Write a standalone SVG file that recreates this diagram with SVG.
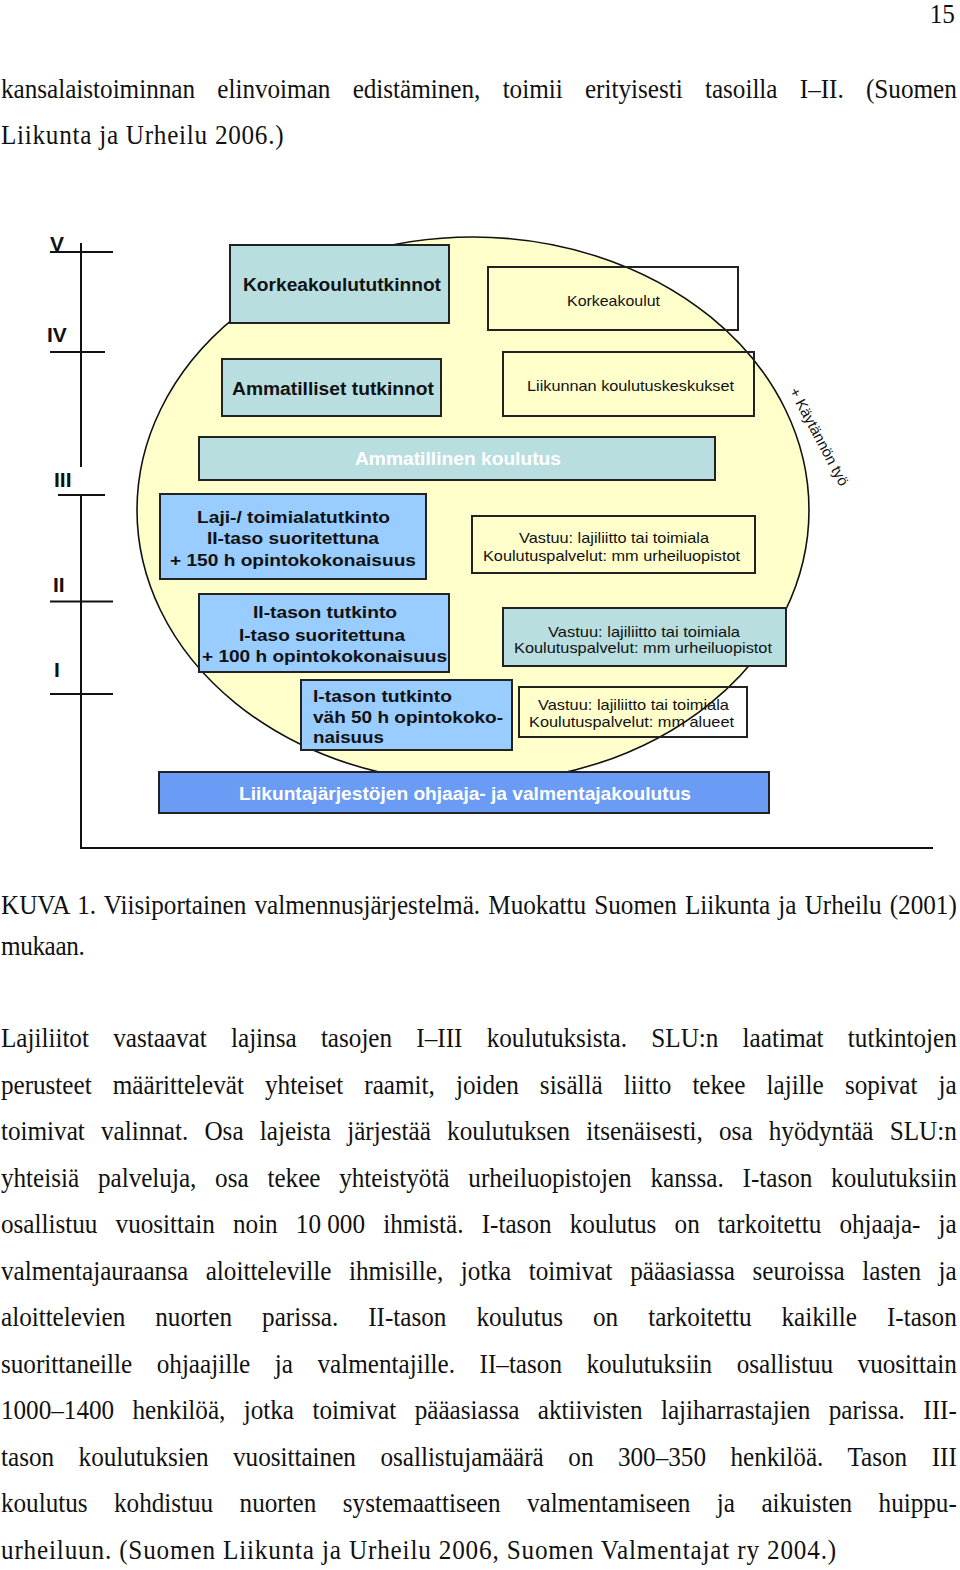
<svg xmlns="http://www.w3.org/2000/svg" width="960" height="1570" viewBox="0 0 960 1570">
<style>
.body{font-family:"Liberation Serif","Times New Roman",serif;font-size:28px;fill:#111}
.b{font-family:"Liberation Sans",Arial,sans-serif;font-weight:bold;fill:#111}
.r{font-family:"Liberation Sans",Arial,sans-serif;fill:#111}
.ax{stroke:#111;stroke-width:2;fill:none}
.teal{fill:#B8DEE0;stroke:#222;stroke-width:2}
.blue{fill:#99CCFF;stroke:#222;stroke-width:2}
.open{fill:none;stroke:#222;stroke-width:2}
</style>
<rect width="960" height="1570" fill="#fff"/>
<g id="bodytext" transform="scale(0.9,1)">
<text class="body" x="1061" y="23" text-anchor="end" font-size="26">15</text>
<text class="body" x="1.1" y="98" word-spacing="17.8" textLength="1062" lengthAdjust="spacing">kansalaistoiminnan elinvoiman edistäminen, toimii erityisesti tasoilla I–II. (Suomen</text>
<text class="body" x="1.1" y="144" textLength="314" lengthAdjust="spacing">Liikunta ja Urheilu 2006.)</text>
<text class="body" x="1.1" y="914" word-spacing="2.1" textLength="1062" lengthAdjust="spacing">KUVA 1. Viisiportainen valmennusjärjestelmä. Muokattu Suomen Liikunta ja Urheilu (2001)</text>
<text class="body" x="1.1" y="955" textLength="93" lengthAdjust="spacing">mukaan.</text>
<text class="body" x="1.1" y="1047" word-spacing="20" textLength="1062" lengthAdjust="spacing">Lajiliitot vastaavat lajinsa tasojen I–III koulutuksista. SLU:n laatimat tutkintojen</text>
<text class="body" x="1.1" y="1094" word-spacing="16.6" textLength="1062" lengthAdjust="spacing">perusteet määrittelevät yhteiset raamit, joiden sisällä liitto tekee lajille sopivat ja</text>
<text class="body" x="1.1" y="1140" word-spacing="11" textLength="1062" lengthAdjust="spacing">toimivat valinnat. Osa lajeista järjestää koulutuksen itsenäisesti, osa hyödyntää SLU:n</text>
<text class="body" x="1.1" y="1187" word-spacing="13.9" textLength="1062" lengthAdjust="spacing">yhteisiä palveluja, osa tekee yhteistyötä urheiluopistojen kanssa. I-tason koulutuksiin</text>
<text class="body" x="1.1" y="1233" word-spacing="13.2" textLength="1062" lengthAdjust="spacing">osallistuu vuosittain noin <tspan word-spacing="0">10 000</tspan> ihmistä. I-tason koulutus on tarkoitettu ohjaaja- ja</text>
<text class="body" x="1.1" y="1280" word-spacing="12.6" textLength="1062" lengthAdjust="spacing">valmentajauraansa aloitteleville ihmisille, jotka toimivat pääasiassa seuroissa lasten ja</text>
<text class="body" x="1.1" y="1326" word-spacing="26.4" textLength="1062" lengthAdjust="spacing">aloittelevien nuorten parissa. II-tason koulutus on tarkoitettu kaikille I-tason</text>
<text class="body" x="1.1" y="1373" word-spacing="20.3" textLength="1062" lengthAdjust="spacing">suorittaneille ohjaajille ja valmentajille. II–tason koulutuksiin osallistuu vuosittain</text>
<text class="body" x="1.1" y="1419" word-spacing="13.5" textLength="1062" lengthAdjust="spacing">1000–1400 henkilöä, jotka toimivat pääasiassa aktiivisten lajiharrastajien parissa. III-</text>
<text class="body" x="1.1" y="1466" word-spacing="20.3" textLength="1062" lengthAdjust="spacing">tason koulutuksien vuosittainen osallistujamäärä on 300–350 henkilöä. Tason III</text>
<text class="body" x="1.1" y="1512" word-spacing="22.4" textLength="1062" lengthAdjust="spacing">koulutus kohdistuu nuorten systemaattiseen valmentamiseen ja aikuisten huippu-</text>
<text class="body" x="1.1" y="1559" textLength="928" lengthAdjust="spacing">urheiluun. (Suomen Liikunta ja Urheilu 2006, Suomen Valmentajat ry 2004.)</text>
</g>
<g id="axis">
<path class="ax" d="M81,243 V467 M81,495 V848 H933 M50,252 H113 M50,352 H105 M58,495 H105 M50,601.5 H113 M50,694 H113"/>
<text class="b" x="50" y="251" font-size="21">V</text>
<text class="b" x="47" y="342" font-size="21">IV</text>
<text class="b" x="54" y="487" font-size="21">III</text>
<text class="b" x="53" y="592" font-size="21">II</text>
<text class="b" x="54" y="677" font-size="21">I</text>
</g>
<g id="ellipse">
<ellipse cx="473" cy="510" rx="336" ry="273" fill="#FFFFCC" stroke="#111" stroke-width="1.6"/>
<text class="r" x="789" y="391" font-size="15" transform="rotate(62 789 391)">+ Käytännön työ</text>
</g>
<g id="n-korkeakoulututkinnot">
<rect class="teal" x="230" y="245" width="219" height="78"/>
<text class="b" x="243" y="291" font-size="17.5" textLength="198" lengthAdjust="spacingAndGlyphs">Korkeakoulututkinnot</text>
</g>
<g id="n-korkeakoulut">
<rect class="open" x="488" y="267" width="250" height="63"/>
<text class="r" x="567" y="306" font-size="14.5" textLength="93" lengthAdjust="spacingAndGlyphs">Korkeakoulut</text>
</g>
<g id="n-ammatilliset">
<rect class="teal" x="222" y="359" width="219" height="57"/>
<text class="b" x="232" y="395" font-size="17.5" textLength="202" lengthAdjust="spacingAndGlyphs">Ammatilliset tutkinnot</text>
</g>
<g id="n-liikunnan">
<rect class="open" x="503" y="352" width="251" height="64"/>
<text class="r" x="527" y="391" font-size="14.5" textLength="207" lengthAdjust="spacingAndGlyphs">Liikunnan koulutuskeskukset</text>
</g>
<g id="n-ammatillinen-koulutus">
<rect class="teal" x="199" y="437" width="516" height="43"/>
<text class="b" x="355" y="465" font-size="17.5" style="fill:#fff" textLength="206" lengthAdjust="spacingAndGlyphs">Ammatillinen koulutus</text>
</g>
<g id="n-taso3">
<rect class="blue" x="160" y="494" width="266" height="85"/>
<text class="b" x="197" y="523" font-size="16.5" textLength="193" lengthAdjust="spacingAndGlyphs">Laji-/ toimialatutkinto</text>
<text class="b" x="207" y="544" font-size="16.5" textLength="172" lengthAdjust="spacingAndGlyphs">II-taso suoritettuna</text>
<text class="b" x="170" y="566" font-size="16.5" textLength="246" lengthAdjust="spacingAndGlyphs">+ 150 h opintokokonaisuus</text>
</g>
<g id="n-vastuu3">
<rect class="open" x="472" y="516" width="283" height="57"/>
<text class="r" x="519" y="543" font-size="14.5" textLength="190" lengthAdjust="spacingAndGlyphs">Vastuu: lajiliitto tai toimiala</text>
<text class="r" x="483" y="561" font-size="14.5" textLength="257" lengthAdjust="spacingAndGlyphs">Koulutuspalvelut:  mm urheiluopistot</text>
</g>
<g id="n-taso2">
<rect class="blue" x="199" y="594" width="250" height="78"/>
<text class="b" x="253" y="618" font-size="16.5" textLength="144" lengthAdjust="spacingAndGlyphs">II-tason tutkinto</text>
<text class="b" x="239" y="641" font-size="16.5" textLength="166" lengthAdjust="spacingAndGlyphs">I-taso suoritettuna</text>
<text class="b" x="202" y="662" font-size="16.5" textLength="245" lengthAdjust="spacingAndGlyphs">+ 100 h opintokokonaisuus</text>
</g>
<g id="n-vastuu2">
<rect class="teal" x="503" y="608" width="283" height="58"/>
<text class="r" x="548" y="637" font-size="14.5" textLength="192" lengthAdjust="spacingAndGlyphs">Vastuu: lajiliitto tai toimiala</text>
<text class="r" x="514" y="653" font-size="14.5" textLength="258" lengthAdjust="spacingAndGlyphs">Koulutuspalvelut:  mm urheiluopistot</text>
</g>
<g id="n-taso1">
<rect class="blue" x="301" y="680" width="211" height="70"/>
<text class="b" x="313" y="702" font-size="16.5" textLength="139" lengthAdjust="spacingAndGlyphs">I-tason tutkinto</text>
<text class="b" x="313" y="723" font-size="16.5" textLength="190" lengthAdjust="spacingAndGlyphs">väh 50 h opintokoko-</text>
<text class="b" x="313" y="743" font-size="16.5" textLength="71" lengthAdjust="spacingAndGlyphs">naisuus</text>
</g>
<g id="n-vastuu1">
<rect class="open" x="519" y="687" width="228" height="50"/>
<text class="r" x="538" y="710" font-size="14.5" textLength="191" lengthAdjust="spacingAndGlyphs">Vastuu: lajiliitto tai toimiala</text>
<text class="r" x="529" y="727" font-size="14.5" textLength="205" lengthAdjust="spacingAndGlyphs">Koulutuspalvelut:  mm alueet</text>
</g>
<g id="n-jarjestot">
<rect x="159" y="772" width="610" height="41" fill="#6B9CF5" stroke="#222" stroke-width="2"/>
<text class="b" x="239" y="800" font-size="18" style="fill:#fff" textLength="452" lengthAdjust="spacingAndGlyphs">Liikuntajärjestöjen ohjaaja- ja valmentajakoulutus</text>
</g>
</svg>
